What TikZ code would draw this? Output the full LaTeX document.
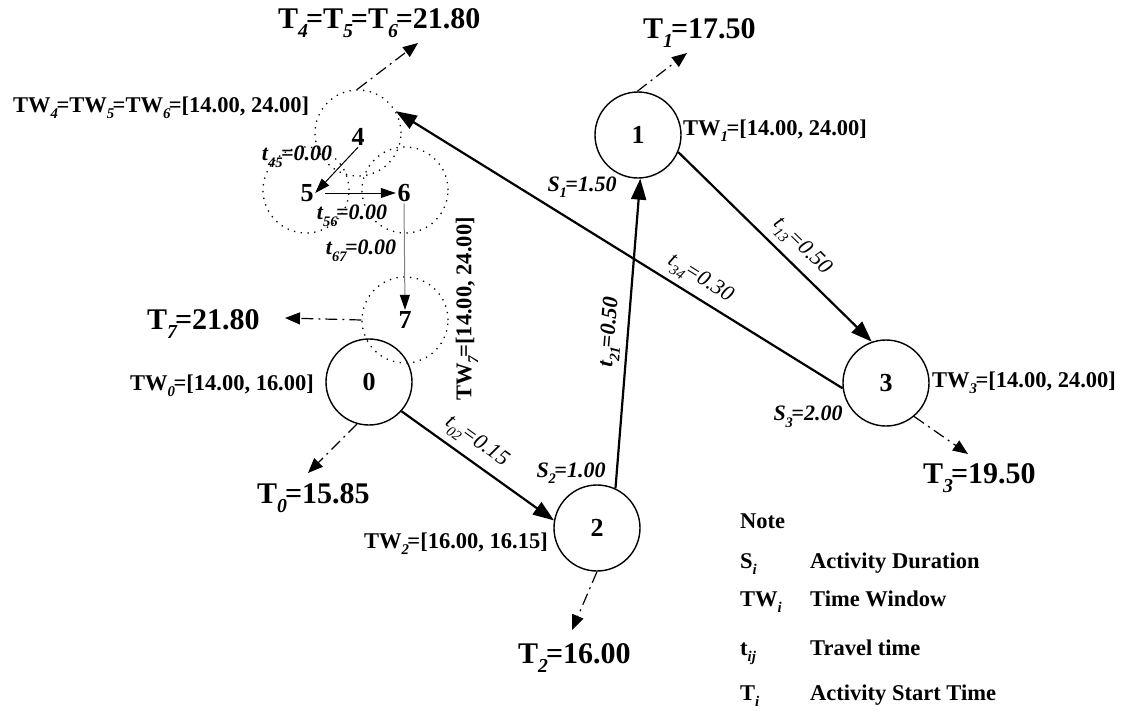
\documentclass[tikz,border=0pt]{standalone}
\usepackage{fontspec}
\setmainfont{Liberation Serif}
\usetikzlibrary{arrows.meta}
\makeatletter
\newcommand{\idx}[1]{\raisebox{-0.3em}{\fontsize{\strip@pt\dimexpr0.66\dimexpr\f@size pt\relax\relax}{0}\selectfont\itshape #1}\kern-0.07em}
\makeatother

\begin{document}
\begin{tikzpicture}[x=1pt,y=-1pt,
  nd/.style={circle, draw, line width=1.4pt, minimum size=86pt, inner sep=0pt,
             font=\fontsize{26}{30}\selectfont\bfseries},
  grp/.style={circle, draw, line width=1.3pt, dash pattern=on 1.3pt off 5.5pt,
              minimum size=86pt},
  num/.style={inner sep=1.5pt, font=\fontsize{26}{30}\selectfont\bfseries},
  big/.style={inner sep=0pt, font=\fontsize{30}{34}\selectfont\bfseries},
  tw/.style={inner sep=0pt, font=\fontsize{22.5}{26}\selectfont\bfseries},
  dur/.style={font=\fontsize{22}{26}\selectfont\bfseries\itshape},
  trv/.style={font=\fontsize{22}{26}\selectfont\itshape},
  arr/.style={-{Triangle[length=21pt,width=15pt]}, line width=2.2pt},
  thin/.style={-{Triangle[length=15pt,width=10pt,color=black]}, line width=1pt},
  st/.style={-{Triangle[length=15pt,width=12pt]}, line width=1.2pt,
             dash pattern=on 12pt off 5pt on 2pt off 5pt}
]
  \useasboundingbox (0,0) rectangle (1125,710);

  \node[nd] (n0) at (369,382) {0};
  \node[nd] (n1) at (638,135) {1};
  \node[nd] (n2) at (597,528) {2};
  \node[nd] (n3) at (886,383) {3};

  \node[grp] (c4) at (358,133) {};
  \node[grp] (c5) at (306,190) {};
  \node[grp] (c6) at (405,190) {};
  \node[grp] (c7) at (405,320) {};
  \node[num] (n4) at (358,137) {4};
  \node[num] (n5) at (307,193) {5};
  \node[num] (n6) at (404,193) {6};
  \node[num] (n7) at (405,320) {7};

  \draw[arr] (n0.-42) -- node[trv, sloped, above=3pt, pos=.42] {t\idx{02}=0.15} (n2.170);
  \draw[arr] (n2.65) -- node[dur, sloped, above=2pt, pos=.5] {t\idx{21}=0.50} (n1.-87);
  \draw[arr] (n1.-23) -- node[trv, sloped, above=3pt, pos=.57] {t\idx{13}=0.50} (n3.109);
  \draw[arr] (n3.187) -- node[trv, sloped, above=2pt, pos=.34] {t\idx{34}=0.30} (c4.30);

  \draw[thin] (n4.south) -- (n5.east);
  \draw[thin, shorten <=10pt] (n5.east) -- (n6.west);
  \draw[thin, draw=gray] (n6.south) -- (n7.north);
  \node[dur] (l45) at (297,157) {t\idx{45}=0.00};
  \node[dur] (l56) at (352,216) {t\idx{56}=0.00};
  \node[dur] (l67) at (361,251) {t\idx{67}=0.00};

  \coordinate (e4) at (418,43);
  \coordinate (e1) at (687,53);
  \coordinate (e3) at (968,454);
  \coordinate (e2) at (572,630);
  \coordinate (e0) at (308,473);
  \coordinate (e7) at (285,318);
  \draw[st] (c4.91) -- (e4);
  \draw[st] (n1.91) -- (e1);
  \draw[st] (n3.-50) -- (e3);
  \draw[st] (n2.-90) -- (e2);
  \draw[st] (n0.-106) -- (e0);
  \draw[st] (c7.180) -- (e7);

  \node[big, anchor=base west] (t4) at (278,28) {T\idx{4}=T\idx{5}=T\idx{6}=21.80};
  \node[big, anchor=base west] (t1) at (643,38) {T\idx{1}=17.50};
  \node[big, anchor=base west] (t3) at (923,483) {T\idx{3}=19.50};
  \node[big, anchor=base west] (t2) at (518,663) {T\idx{2}=16.00};
  \node[big, anchor=base west] (t0) at (257,503) {T\idx{0}=15.85};
  \node[big, anchor=base west] (t7) at (147,329) {T\idx{7}=21.80};

  \node[tw, anchor=base west] (w4) at (13,112) {TW\idx{4}=TW\idx{5}=TW\idx{6}=[14.00, 24.00]};
  \node[tw, anchor=base west] (w1) at (683,135) {TW\idx{1}=[14.00, 24.00]};
  \node[tw, anchor=base west] (w3) at (932,387) {TW\idx{3}=[14.00, 24.00]};
  \node[tw, anchor=base west] (w0) at (130,390) {TW\idx{0}=[14.00, 16.00]};
  \node[tw, anchor=base east] (w2) at (548,548) {TW\idx{2}=[16.00, 16.15]};
  \node[tw, rotate=90] (w7) at (467,309) {TW\idx{7}=[14.00, 24.00]};

  \node[dur] (s1) at (582,187) {S\idx{1}=1.50};
  \node[dur] (s2) at (571,473) {S\idx{2}=1.00};
  \node[dur] (s3) at (808,417) {S\idx{3}=2.00};

  \node[tw, anchor=base west] (note) at (740,528) {Note};
  \node[tw, anchor=base west] (ks) at (740,568) {S\idx{i}};
  \node[tw, anchor=base west] (vs) at (810,568) {Activity Duration};
  \node[tw, anchor=base west] (kw) at (740,606) {TW\idx{i}};
  \node[tw, anchor=base west] (vw) at (810,606) {Time Window};
  \node[tw, anchor=base west] (kt) at (740,655) {t\idx{ij}};
  \node[tw, anchor=base west] (vt) at (810,655) {Travel time};
  \node[tw, anchor=base west] (kT) at (740,700) {T\idx{i}};
  \node[tw, anchor=base west] (vT) at (810,700) {Activity Start Time};
\end{tikzpicture}
\end{document}
